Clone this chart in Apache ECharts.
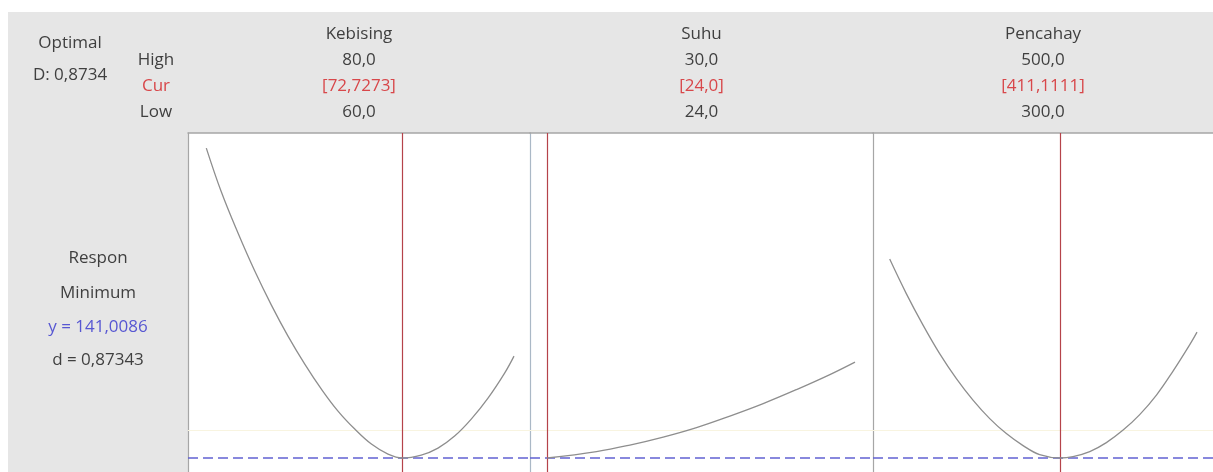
<!DOCTYPE html>
<html>
<head>
<meta charset="utf-8">
<script src="https://cdn.jsdelivr.net/npm/echarts@6/dist/echarts.min.js"></script>
<style>
  html, body { margin: 0; padding: 0; background: #ffffff; }
  #chart { width: 1213px; height: 472px; }
</style>
</head>
<body>
<div id="chart"></div>
<script>
// Factor settings for the response optimizer
const factorNames = ['Kebising', 'Suhu', 'Pencahay'];
const highLabels  = ['80,0', '30,0', '500,0'];
const curLabels   = ['[72,7273]', '[24,0]', '[411,1111]'];
const lowLabels   = ['60,0', '24,0', '300,0'];
const curVals  = [72.7273, 24, 411.1111];

// Predicted response along each factor (other factors held at current setting)
const kebisingX = [60, 60.98, 62.06, 63.15, 64.23, 65.31, 66.40, 67.48, 68.56, 69.65, 70.73, 71.81, 72.7273, 73.97, 75.06, 76.14, 77.22, 78.31, 79.39, 80];
const kebisingY = [172.0, 167.6, 163.5, 159.7, 156.3, 153.2, 150.4, 147.9, 145.7, 143.9, 142.4, 141.4, 141.0086, 141.3, 142.0, 143.2, 144.9, 147.0, 149.5, 151.2];

const suhuX = [24, 24.96, 25.61, 26.26, 26.91, 27.56, 28.21, 28.86, 29.51, 30];
const suhuY = [141.0086, 141.65, 142.3, 143.1, 144.05, 145.2, 146.45, 147.85, 149.35, 150.6];

const pencahayX = [300, 310.8, 321.7, 332.5, 343.4, 354.2, 365.1, 375.9, 386.8, 397.6, 411.1111, 419.3, 430.2, 441.0, 451.9, 462.7, 473.6, 484.4, 495.3, 500];
const pencahayY = [160.9, 157.45, 154.3, 151.45, 148.95, 146.8, 144.95, 143.45, 142.25, 141.35, 141.0086, 141.15, 141.65, 142.55, 143.8, 145.35, 147.3, 149.7, 152.35, 153.6];

// Optimum summary
const optimalD = 'D: 0,8734';
const respName = 'Respon';
const goalName = 'Minimum';
const yOpt = 141.0086;
const yOptLabel = 'y = 141,0086';
const dLabel = 'd = 0,87343';
const targetRef = 143.8;

const curveX = [kebisingX, suhuX, pencahayX];
const curveY = [kebisingY, suhuY, pencahayY];

// Panel layout
const panels = [
  { left: 188, width: 342, xMin: 58.81, xMax: 81.04, edge: '#a6a6a6' },
  { left: 530, width: 343, xMin: 23.663, xMax: 30.351, edge: '#aab8c6' },
  { left: 873, width: 340, xMin: 289.13, xMax: 510.4, edge: '#a6a6a6' }
];
const plotTop = 133;
const plotHeight = 339;
const yMin = 139.6086, yMax = 173.5086;

const FONT = 'Open Sans';
const TXT = '#3f3f3f';
const RED_TXT = '#d8474a';
const BLUE_TXT = '#5757d2';

const chart = echarts.init(document.getElementById('chart'));

const grids = [], xAxes = [], yAxes = [], series = [];
panels.forEach((p, i) => {
  grids.push({
    left: p.left, top: plotTop, width: p.width, height: plotHeight,
    show: true, backgroundColor: '#ffffff', borderWidth: 0
  });
  xAxes.push({
    type: 'value', gridIndex: i, position: 'top', min: p.xMin, max: p.xMax,
    axisLine: { show: true, onZero: false, lineStyle: { color: '#a6a6a6', width: 1.5 } },
    axisTick: { show: false }, axisLabel: { show: false }, splitLine: { show: false }
  });
  yAxes.push({
    type: 'value', gridIndex: i, min: yMin, max: yMax,
    axisLine: { show: true, onZero: false, lineStyle: { color: p.edge, width: 1.2 } },
    axisTick: { show: false }, axisLabel: { show: false }, splitLine: { show: false }
  });
  // reference lines: faint target, optimum (dashed) and current setting (red)
  series.push({
    type: 'line', xAxisIndex: i, yAxisIndex: i, data: [], z: 1,
    markLine: {
      silent: true, symbol: 'none', animation: false,
      label: { show: false },
      data: [
        { yAxis: targetRef, lineStyle: { color: '#f8f4e0', width: 1, type: 'solid' } },
        { yAxis: yOpt, lineStyle: { color: '#6262d2', width: 1.5, type: [10, 5] } },
        { xAxis: curVals[i], lineStyle: { color: '#b5434a', width: 1.2, type: 'solid' } }
      ]
    }
  });
  // response curve
  series.push({
    type: 'line', xAxisIndex: i, yAxisIndex: i,
    data: curveX[i].map((x, k) => [x, curveY[i][k]]),
    smooth: 0.4, showSymbol: false, symbol: 'none',
    lineStyle: { color: '#8e8e8e', width: 1.3 },
    z: 5
  });
});

// Header and summary text
const graphics = [
  { type: 'rect', shape: { x: 8, y: 12, width: 1205, height: 460 }, style: { fill: '#e6e6e6' }, z: -10, silent: true }
];
function addText(text, x, y, color) {
  graphics.push({
    type: 'text', x: x, y: y, z: 10, silent: true,
    style: { text: text, fill: color, font: '17px "' + FONT + '"', align: 'center', verticalAlign: 'middle' }
  });
}
const rowY = [34, 60, 86, 112];
panels.forEach((p, i) => {
  const cx = p.left + p.width / 2;
  addText(factorNames[i], cx, rowY[0], TXT);
  addText(highLabels[i], cx, rowY[1], TXT);
  addText(curLabels[i], cx, rowY[2], RED_TXT);
  addText(lowLabels[i], cx, rowY[3], TXT);
});
addText('Optimal', 70, 43, TXT);
addText(optimalD, 70, 75, TXT);
addText('High', 156, rowY[1], TXT);
addText('Cur', 156, rowY[2], RED_TXT);
addText('Low', 156, rowY[3], TXT);
addText(respName, 98, 258, TXT);
addText(goalName, 98, 293, TXT);
addText(yOptLabel, 98, 327, BLUE_TXT);
addText(dLabel, 98, 360, TXT);

chart.setOption({
  backgroundColor: 'transparent',
  animation: false,
  grid: grids,
  xAxis: xAxes,
  yAxis: yAxes,
  series: series,
  graphic: graphics
});
</script>
</body>
</html>
